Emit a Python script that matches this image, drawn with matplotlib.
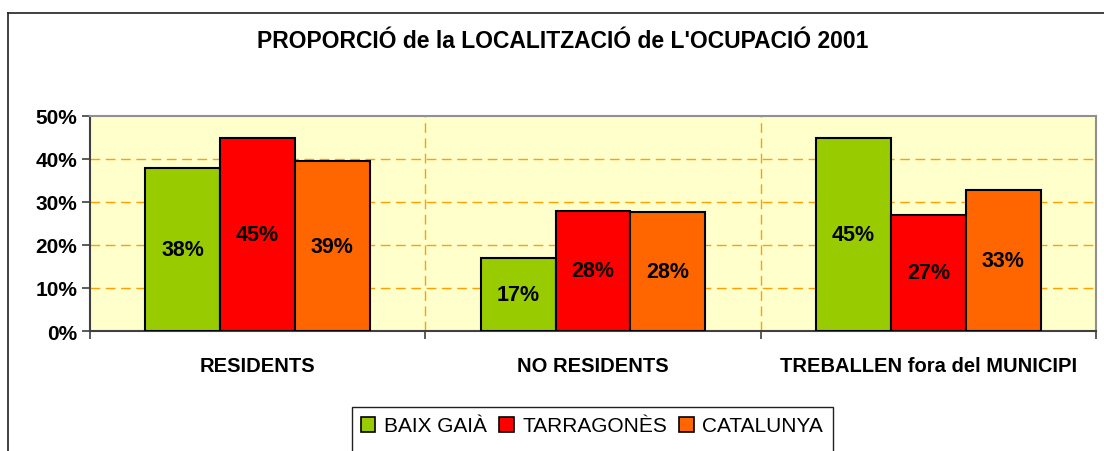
import numpy as np
import matplotlib.pyplot as plt
from matplotlib.patches import Rectangle
from matplotlib.lines import Line2D

plt.rcParams['font.family'] = ['Liberation Sans', 'DejaVu Sans']

categories = ['RESIDENTS', 'NO RESIDENTS', 'TREBALLEN fora del MUNICIPI']
series = ['BAIX GAIÀ', 'TARRAGONÈS', 'CATALUNYA']
baix_gaia = [38, 17, 45]
tarragones = [45, 28, 27]
catalunya = [39.5, 27.7, 32.8]
labels_baix = ['38%', '17%', '45%']
labels_tarr = ['45%', '28%', '27%']
labels_cat = ['39%', '28%', '33%']
colors = ['#99CC00', '#FF0000', '#FF6600']

fig = plt.figure(figsize=(11.04, 4.52), dpi=100)
ax = fig.add_axes([90/1104, 1-332/452, (1096-90)/1104, (332-117)/452])
ax.set_facecolor('#FFFFCC')

x = np.arange(len(categories))
w = 0.223
data = [baix_gaia, tarragones, catalunya]
labs = [labels_baix, labels_tarr, labels_cat]
for i, (vals, lb) in enumerate(zip(data, labs)):
    pos = x + (i - 1) * w
    ax.bar(pos, vals, width=w, color=colors[i], edgecolor='black', linewidth=1.5, zorder=3, label=series[i])
    for p, v, t in zip(pos, vals, lb):
        ax.text(p, v / 2, t, ha='center', va='center', fontsize=15.5, fontweight='bold', zorder=4)

ax.set_xlim(-0.5, 2.5)
ax.set_ylim(0, 50)
ax.set_yticks(range(0, 51, 10))
ax.set_yticklabels([f'{v}%' for v in range(0, 51, 10)], fontsize=15, fontweight='bold')
ax.set_xticks(x)
ax.set_xticklabels(categories, fontsize=14.5, fontweight='bold')
ax.tick_params(axis='x', length=0, pad=18)
ax.set_xticks([-0.5, 0.5, 1.5, 2.5], minor=True)
ax.tick_params(axis='x', which='minor', length=6, color='#404040', width=1.2)
ax.tick_params(axis='y', length=6, color='#404040', width=1.2, pad=3)

for yv in range(10, 50, 10):
    ax.axhline(yv, color='#FFA000', linestyle=(0, (7, 4)), linewidth=1, zorder=1)
for xv in [0.5, 1.5]:
    ax.axvline(xv, color='#FFA000', linestyle=(0, (7, 4)), linewidth=1, zorder=1)

for s in ['left', 'bottom']:
    ax.spines[s].set_color('#404040')
    ax.spines[s].set_linewidth(1.5)
for s in ['top', 'right']:
    ax.spines[s].set_color('#909090')
    ax.spines[s].set_linewidth(1.5)

fig.text(563/1104, 1-41/452, "PROPORCIÓ de la LOCALITZACIÓ de L'OCUPACIÓ 2001",
         ha='center', va='center', fontsize=16.5, fontweight='bold')

# chart frame, cut off at right and bottom
fig.add_artist(Line2D([8/1104, 8/1104], [0, 1-14/452], color='#202020', linewidth=1.2))
fig.add_artist(Line2D([8/1104, 1], [1-14/452, 1-14/452], color='#202020', linewidth=1.2))

# legend box
fig.add_artist(Rectangle((352/1104, -0.05), (833-352)/1104, 0.05 + (452-408)/452,
                         transform=fig.transFigure, facecolor='white', edgecolor='#202020', linewidth=1))
handles = [Rectangle((0, 0), 1, 1, facecolor=c, edgecolor='black', linewidth=1.2) for c in colors]
leg = fig.legend(handles, series, loc='center', bbox_to_anchor=(592/1104, 1-427/452),
                 ncol=3, frameon=False, fontsize=15, handlelength=0.7, handleheight=0.7,
                 handletextpad=0.4, columnspacing=0.6, borderpad=0)

fig.savefig('out.png', dpi=100)
